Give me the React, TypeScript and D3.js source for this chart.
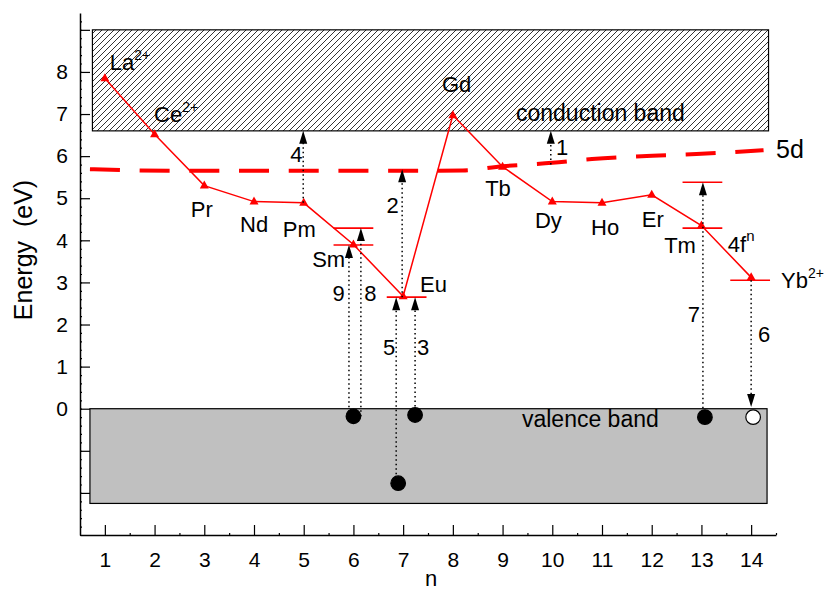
import React, { useRef, useEffect } from "react";
import * as d3 from "d3";

// lanthanide ions, n = 1..14
const nValues = [1, 2, 3, 4, 5, 6, 7, 8, 9, 10, 11, 12, 13, 14];
const elements = ["La", "Ce", "Pr", "Nd", "Pm", "Sm", "Eu", "Gd", "Tb", "Dy", "Ho", "Er", "Tm", "Yb"];
const elementSup = ["2+", "2+", "", "", "", "", "", "", "", "", "", "", "", "2+"];
const energy4f = [7.85, 6.52, 5.3, 4.92, 4.89, 3.9, 2.67, 6.97, 5.75, 4.92, 4.89, 5.08, 4.35, 3.12];

// where the element names sit
const labelN = [1.1, 1.99, 2.73, 3.72, 4.58, 5.17, 7.34, 7.78, 8.65, 9.65, 10.78, 11.8, 12.25, 14.6];
const labelE = [8.05, 6.81, 4.55, 4.2, 4.08, 3.37, 2.77, 7.52, 5.05, 4.29, 4.12, 4.31, 3.7, 2.86];

// lowest 5d level
const band5dN = [0.7, 1.7, 3, 5, 7, 8.2, 9, 10, 10.8, 11.8, 12.9, 14.25];
const band5dE = [5.69, 5.66, 5.65, 5.65, 5.65, 5.66, 5.76, 5.84, 5.93, 6.0, 6.05, 6.14];

// conduction / valence bands
const conduction = { n0: 0.75, n1: 14.35, e0: 6.6, e1: 9 };
const valence = { n0: 0.7, n1: 14.32, e0: -2.25, e1: 0 };

// short level marks
const levelN = [6, 6, 7.07, 13.02, 13.02, 13.98];
const levelE = [4.29, 3.89, 2.65, 4.29, 5.38, 3.05];

// transitions
const arrowN = [9.97, 6.98, 7.24, 4.99, 6.86, 14.0, 13.03, 6.15, 5.91];
const arrowFrom = [5.8, 2.65, -0.16, 4.89, -1.77, 3.05, -0.2, -0.18, -0.18];
const arrowTo = [6.6, 5.69, 2.65, 6.6, 2.65, 0.04, 5.38, 4.29, 3.89];
const arrowLabel = ["1", "2", "3", "4", "5", "6", "7", "8", "9"];
const arrowLabelN = [10.2, 6.79, 7.4, 4.85, 6.72, 14.26, 12.85, 6.34, 5.7];
const arrowLabelE = [6.03, 4.65, 1.27, 5.86, 1.27, 1.58, 2.06, 2.55, 2.55];

// electrons / holes
const ballN = [6.0, 7.24, 6.9, 13.07, 14.04];
const ballE = [-0.18, -0.15, -1.77, -0.2, -0.2];
const ballFilled = [true, true, true, true, false];

const yTicks = [-2, -1, 0, 1, 2, 3, 4, 5, 6, 7, 8, 9];
const yTickLabels = ["", "", "0", "1", "2", "3", "4", "5", "6", "7", "8", ""];

const FONT = "'Liberation Sans', Arial, Helvetica, sans-serif";

export default function App() {
  const svgRef = useRef<SVGSVGElement>(null);

  useEffect(() => {
    const svg = d3.select(svgRef.current);
    svg.selectAll("*").remove();

    const width = 824;
    const height = 591;
    svg.attr("width", width).attr("height", height).attr("viewBox", [0, 0, width, height]);

    const x = d3.scaleLinear().domain([0.5, 14.5]).range([80, 776]);
    const y = d3.scaleLinear().domain([-3, 9.4]).range([535, 13]);

    const defs = svg.append("defs");
    const hatch = defs
      .append("pattern")
      .attr("id", "hatch")
      .attr("patternUnits", "userSpaceOnUse")
      .attr("width", 6)
      .attr("height", 6);
    hatch.append("rect").attr("width", 6).attr("height", 6).attr("fill", "white");
    hatch
      .append("path")
      .attr("d", "M0,6 L6,0 M-1.5,1.5 L1.5,-1.5 M4.5,7.5 L7.5,4.5")
      .attr("stroke", "#000")
      .attr("stroke-width", 0.8);

    // bands
    svg
      .append("rect")
      .attr("x", x(conduction.n0))
      .attr("y", y(conduction.e1))
      .attr("width", x(conduction.n1) - x(conduction.n0))
      .attr("height", y(conduction.e0) - y(conduction.e1))
      .attr("fill", "url(#hatch)")
      .attr("stroke", "#000")
      .attr("stroke-width", 1.2);

    svg
      .append("rect")
      .attr("x", x(valence.n0))
      .attr("y", y(valence.e1))
      .attr("width", x(valence.n1) - x(valence.n0))
      .attr("height", y(valence.e0) - y(valence.e1))
      .attr("fill", "#c0c0c0")
      .attr("stroke", "#000")
      .attr("stroke-width", 1.2);

    // axes
    const yAxis = svg
      .append("g")
      .attr("transform", `translate(${x(0.5)},0)`)
      .call(
        d3
          .axisLeft(y)
          .tickValues(yTicks)
          .tickSize(-10)
          .tickSizeOuter(0)
          .tickPadding(12)
          .tickFormat((d, i) => yTickLabels[i])
      );
    svg
      .append("g")
      .attr("transform", `translate(${x(0.5)},0)`)
      .call(
        d3
          .axisLeft(y)
          .tickValues(d3.range(-3, 9.4, 0.2))
          .tickSize(-2)
          .tickSizeOuter(0)
          .tickFormat(() => "")
      )
      .call((g) => g.select(".domain").remove());

    const xAxis = svg
      .append("g")
      .attr("transform", `translate(0,${y(-3)})`)
      .call(
        d3
          .axisBottom(x)
          .tickValues(nValues)
          .tickSize(-10)
          .tickSizeOuter(0)
          .tickPadding(17)
          .tickFormat((d) => String(d))
      );
    svg
      .append("g")
      .attr("transform", `translate(0,${y(-3)})`)
      .call(
        d3
          .axisBottom(x)
          .tickValues(nValues.map((d) => d + 0.5))
          .tickSize(-2)
          .tickSizeOuter(0)
          .tickFormat(() => "")
      )
      .call((g) => g.select(".domain").remove());

    svg.selectAll(".domain").attr("stroke-width", 1.5);
    svg.selectAll(".tick line").attr("stroke-width", 1.2);
    [yAxis, xAxis].forEach((g) =>
      g.selectAll("text").attr("font-size", 21).attr("font-family", FONT).attr("fill", "#000")
    );

    svg
      .append("text")
      .attr("transform", `translate(32,250) rotate(-90)`)
      .attr("text-anchor", "middle")
      .attr("font-size", 25)
      .attr("font-family", FONT)
      .attr("xml:space", "preserve")
      .style("white-space", "pre")
      .text("Energy  (eV)");

    svg
      .append("text")
      .attr("x", 431)
      .attr("y", 586)
      .attr("text-anchor", "middle")
      .attr("font-size", 22)
      .attr("font-family", FONT)
      .text("n");

    // 5d line
    const line5d = d3
      .line<number>()
      .x((d, i) => x(band5dN[i]))
      .y((d) => y(d))
      .curve(d3.curveMonotoneX);
    svg
      .append("path")
      .attr("d", line5d(band5dE))
      .attr("fill", "none")
      .attr("stroke", "#ff0000")
      .attr("stroke-width", 4)
      .attr("stroke-dasharray", "30 19.7");

    // level marks
    svg
      .append("g")
      .selectAll("line")
      .data(levelE)
      .join("line")
      .attr("x1", (d, i) => x(levelN[i] - 0.4))
      .attr("x2", (d, i) => x(levelN[i] + 0.4))
      .attr("y1", (d) => y(d))
      .attr("y2", (d) => y(d))
      .attr("stroke", "#ff0000")
      .attr("stroke-width", 1.6);

    // 4f ground state line
    const line4f = d3
      .line<number>()
      .x((d, i) => x(nValues[i]))
      .y((d) => y(d));
    svg
      .append("path")
      .attr("d", line4f(energy4f))
      .attr("fill", "none")
      .attr("stroke", "#ff0000")
      .attr("stroke-width", 1.5);
    svg
      .append("g")
      .selectAll("path")
      .data(energy4f)
      .join("path")
      .attr("transform", (d, i) => `translate(${x(nValues[i])},${y(d)})`)
      .attr("d", "M0,-5 L4.5,3 L-4.5,3 Z")
      .attr("fill", "#ff0000");

    // transitions
    const arrows = svg.append("g");
    arrowN.forEach((n, i) => {
      const ax = x(n);
      const y0 = y(arrowFrom[i]);
      const y1 = y(arrowTo[i]);
      const dir = y1 < y0 ? 1 : -1; // 1 = pointing up
      arrows
        .append("line")
        .attr("x1", ax)
        .attr("x2", ax)
        .attr("y1", y0)
        .attr("y2", y1 + dir * 10)
        .attr("stroke", "#000")
        .attr("stroke-width", 1.5)
        .attr("stroke-dasharray", "1.5 3");
      arrows
        .append("path")
        .attr("d", `M${ax},${y1} L${ax + 4},${y1 + dir * 13} L${ax - 4},${y1 + dir * 13} Z`)
        .attr("fill", "#000");
      arrows
        .append("text")
        .attr("x", x(arrowLabelN[i]))
        .attr("y", y(arrowLabelE[i]))
        .attr("text-anchor", "middle")
        .attr("font-size", 22)
        .attr("font-family", FONT)
        .text(arrowLabel[i]);
    });

    // electrons and holes
    svg
      .append("g")
      .selectAll("circle")
      .data(ballE)
      .join("circle")
      .attr("cx", (d, i) => x(ballN[i]))
      .attr("cy", (d) => y(d))
      .attr("r", 7.3)
      .attr("fill", (d, i) => (ballFilled[i] ? "#000" : "#fff"))
      .attr("stroke", "#000")
      .attr("stroke-width", 1.2);

    // element names
    const names = svg
      .append("g")
      .attr("font-family", FONT)
      .selectAll("text")
      .data(elements)
      .join("text")
      .attr("x", (d, i) => x(labelN[i]))
      .attr("y", (d, i) => y(labelE[i]))
      .attr("font-size", 22);
    names.append("tspan").text((d) => d);
    names
      .filter((d, i) => elementSup[i] !== "")
      .append("tspan")
      .attr("font-size", 14)
      .attr("dy", -10)
      .text((d) => elementSup[elements.indexOf(d)]);

    const f4 = svg
      .append("text")
      .attr("x", x(13.53))
      .attr("y", y(3.72))
      .attr("font-size", 22)
      .attr("font-family", FONT);
    f4.append("tspan").text("4f");
    f4.append("tspan").attr("font-size", 15).attr("dy", -11).text("n");

    svg
      .append("text")
      .attr("x", x(9.27))
      .attr("y", y(6.83))
      .attr("font-size", 23)
      .attr("font-family", FONT)
      .text("conduction band");
    svg
      .append("text")
      .attr("x", x(9.39))
      .attr("y", y(-0.43))
      .attr("font-size", 23)
      .attr("font-family", FONT)
      .text("valence band");
    svg
      .append("text")
      .attr("x", x(14.5))
      .attr("y", y(5.95))
      .attr("font-size", 25)
      .attr("font-family", FONT)
      .text("5d");
  }, []);

  return (
    <div style={{ position: "absolute", left: 0, top: 0 }}>
      <svg ref={svgRef} style={{ display: "block" }}></svg>
    </div>
  );
}
